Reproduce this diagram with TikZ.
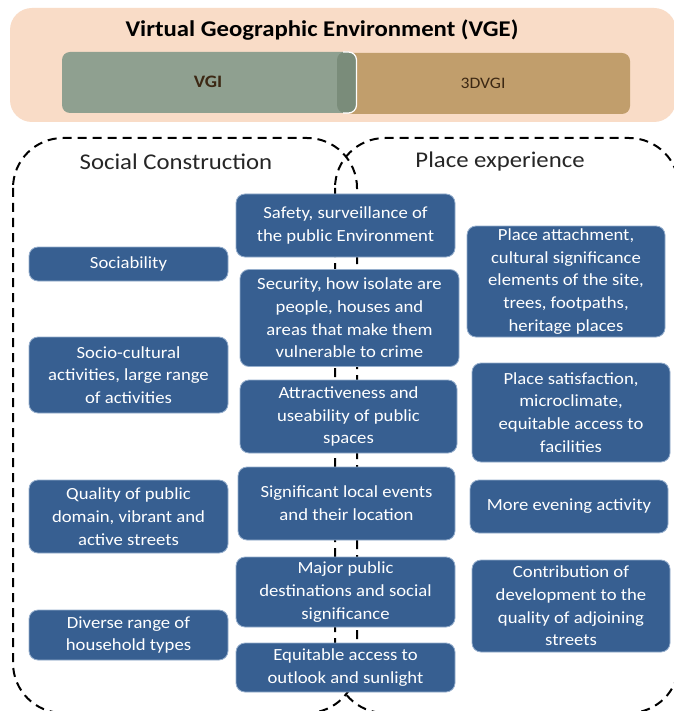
\documentclass[tikz,border=0pt]{standalone}
\usepackage{fontspec}
\setmainfont{Carlito}[FakeStretch=1.1]
\definecolor{boxblue}{RGB}{55,95,145}
\definecolor{boxedge}{RGB}{150,175,205}
\definecolor{peach}{RGB}{249,220,199}
\definecolor{vgigreen}{RGB}{143,160,144}
\definecolor{vgidark}{RGB}{122,140,122}
\definecolor{tan}{RGB}{193,158,108}
\definecolor{labelbrown}{RGB}{60,40,20}
\tikzset{
  bbox/.style={rectangle, rounded corners=9pt, fill=boxblue, draw=boxedge, line width=0.8pt,
    text=white, align=center, font=\fontsize{17}{22.7}\selectfont, inner sep=0pt},
  dashbox/.style={draw=black, line width=2pt, dash pattern=on 9pt off 6pt, rounded corners=50pt},
  sectitle/.style={font=\fontsize{22.5}{27}\selectfont, text=black!85},
  layer/.style={font=\bfseries\fontsize{17.5}{20}\selectfont, text=labelbrown}
}
\begin{document}
\begin{tikzpicture}[x=1pt,y=-1pt]
\useasboundingbox (0,0) rectangle (673,711);
\fill[white] (0,0) rectangle (673,711);
% top VGE panel
\fill[peach, rounded corners=22pt] (10,8) rectangle (676,122);
\node[font=\bfseries\fontsize{22.5}{27}\selectfont] (vge) at (322,30) {Virtual Geographic Environment (VGE)};
\fill[tan, rounded corners=8pt] (345,53) rectangle (630,114);
\fill[vgigreen, rounded corners=8pt] (62,52) rectangle (356,113);
\fill[vgidark, rounded corners=8pt] (337,52) rectangle (356,113);
\draw[white, line width=1.2pt, rounded corners=8pt] (343,52) -- (356.5,52) -- (356.5,113) -- (343,113);
\node[layer] (vgi) at (208,82) {VGI};
\node[layer, font=\fontsize{16}{18}\selectfont] (dvgi) at (483,83) {3DVGI};
% dashed regions
\draw[dashbox] (13,138) rectangle (357,713);
\draw[dashbox] (335,138) rectangle (679,713);
\node[sectitle] (sc) at (176,162) {Social Construction};
\node[sectitle] (pe) at (500,162) {Place experience};
% left column
\node[bbox, minimum width=199pt, minimum height=34pt] (soc) at (128.5,264) {Sociability};
\node[bbox, minimum width=199pt, minimum height=76pt] (socio) at (128.5,375) {Socio-cultural\\activities, large range\\of activities};
\node[bbox, minimum width=199pt, minimum height=73pt] (qual) at (128.5,516.5) {Quality of public\\domain, vibrant and\\active streets};
\node[bbox, minimum width=199pt, minimum height=50pt] (div) at (128.5,635) {Diverse range of\\household types};
% middle column
\node[bbox, minimum width=219pt, minimum height=63pt] (safety) at (345.5,225.5) {Safety, surveillance of\\the public Environment};
\node[bbox, minimum width=219pt, minimum height=97pt] (secur) at (349.5,318) {Security, how isolate are\\people, houses and\\areas that make them\\vulnerable to crime};
\node[bbox, minimum width=217pt, minimum height=73pt] (attr) at (348.5,416.5) {Attractiveness and\\useability of public\\spaces};
\node[bbox, minimum width=217pt, minimum height=73pt] (sig) at (346.5,503.5) {Significant local events\\and their location};
\node[bbox, minimum width=219pt, minimum height=70pt] (major) at (345.5,592) {Major public\\destinations and social\\significance};
\node[bbox, minimum width=219pt, minimum height=49pt] (equit) at (345.5,667.5) {Equitable access to\\outlook and sunlight};
% right column
\node[bbox, minimum width=198pt, minimum height=111pt] (attach) at (566,281.5) {Place attachment,\\cultural significance\\elements of the site,\\trees, footpaths,\\heritage places};
\node[bbox, minimum width=198pt, minimum height=99pt] (satis) at (571,412.5) {Place satisfaction,\\microclimate,\\equitable access to\\facilities};
\node[bbox, minimum width=198pt, minimum height=53pt] (even) at (569,506.5) {More evening activity};
\node[bbox, minimum width=198pt, minimum height=92pt] (contr) at (571,606) {Contribution of\\development to the\\quality of adjoining\\streets};
\end{tikzpicture}
\end{document}
